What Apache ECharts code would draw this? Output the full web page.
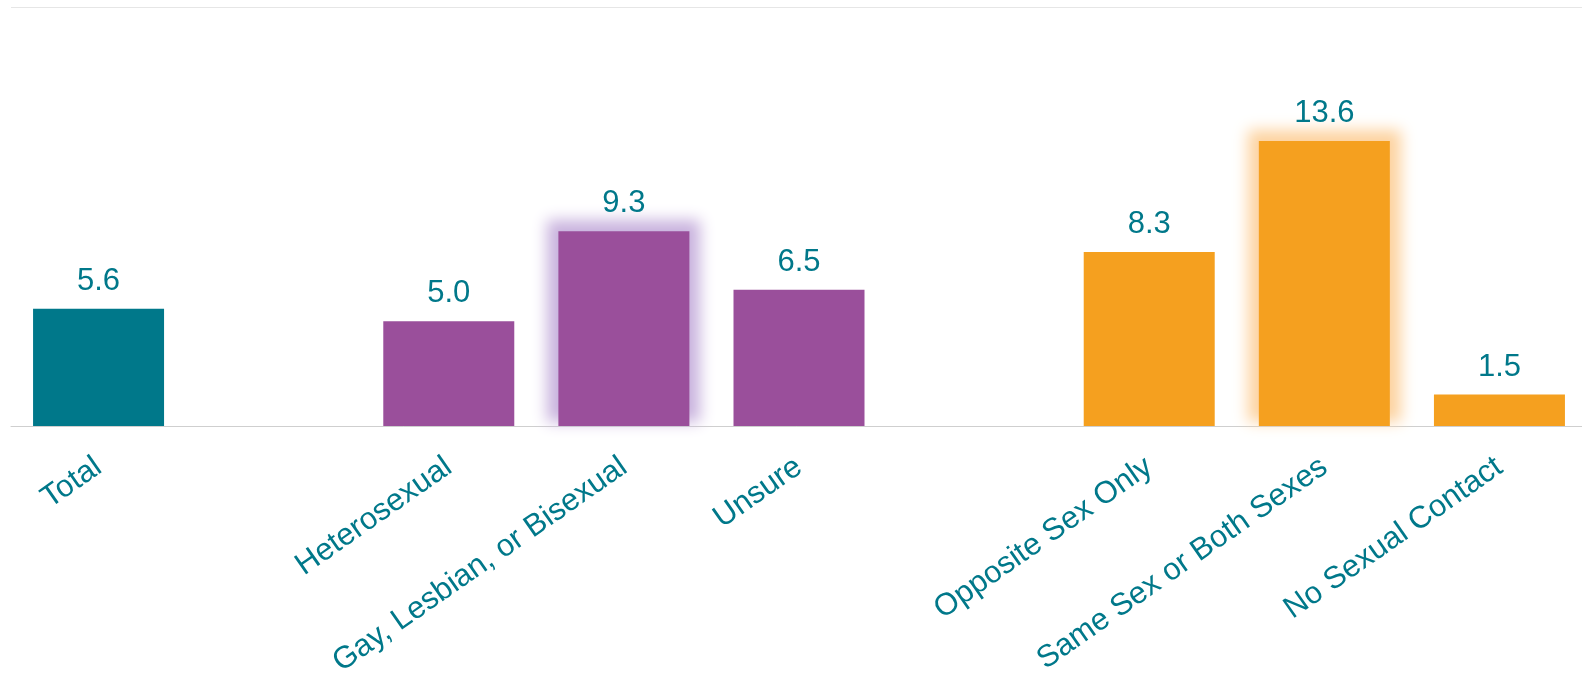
<!DOCTYPE html>
<html>
<head>
<meta charset="utf-8">
<style>
  html, body { margin: 0; padding: 0; background: #ffffff; }
  #chart { width: 1582px; height: 676px; }
</style>
<script src="https://cdn.jsdelivr.net/npm/echarts@6/dist/echarts.min.js"></script>
</head>
<body>
<div id="chart"></div>
<script>
// Categories (empty strings act as spacers between groups)
const categories = ['Total', '', 'Heterosexual', 'Gay, Lesbian, or Bisexual', 'Unsure', '',
  'Opposite Sex Only', 'Same Sex or Both Sexes', 'No Sexual Contact'];
// Percentages per category (null = spacer)
const values = [5.6, null, 5.0, 9.3, 6.5, null, 8.3, 13.6, 1.5];
// Group of each category: total, sexual identity, sex of sexual contacts
const groups = ['total', null, 'identity', 'identity', 'identity', null, 'contact', 'contact', 'contact'];
// Categories drawn with a glow
const highlighted = ['Gay, Lesbian, or Bisexual', 'Same Sex or Both Sexes'];
// Y axis range
const yMin = 0;
const yMax = 20;

const groupColors = { total: '#00788A', identity: '#9A4F9B', contact: '#F5A01F' };
const glowColors = { identity: '#c9b3de', contact: '#fdd3a0' };
const textColor = '#00788A';
const fontFamily = 'Liberation Sans, Arial, sans-serif';
const barWidth = 131;
const glowSpread = 11;
const glowBlur = 14;
// The halo rect is drawn off-canvas and only its shadow is shifted back in,
// so the glow has soft edges everywhere.
const shadowShift = 4000;

// Main bars
const barData = values.map((v, i) => v === null ? null
  : { value: v, itemStyle: { color: groupColors[groups[i]] } });

// Halo behind highlighted bars: [category index, value, group]
const glowData = [];
values.forEach((v, i) => {
  if (v !== null && highlighted.includes(categories[i])) glowData.push([i, v, groups[i]]);
});

function renderGlow(params, api) {
  const top = api.coord([api.value(0), api.value(1)]);
  const base = api.coord([api.value(0), 0]);
  const c = glowColors[glowData[params.dataIndex][2]];
  const x = top[0] - barWidth / 2 - glowSpread;
  const y = top[1] - glowSpread;
  return {
    type: 'rect',
    shape: { x: x - shadowShift, y: y, width: barWidth + glowSpread * 2, height: base[1] - y - 4 },
    style: { fill: c, shadowBlur: glowBlur, shadowColor: c, shadowOffsetX: shadowShift }
  };
}

const chart = echarts.init(document.getElementById('chart'), null, { renderer: 'canvas' });
chart.setOption({
  animation: false,
  backgroundColor: '#ffffff',
  grid: { left: 11, right: -5, top: 7, bottom: 250, containLabel: false, outerBoundsMode: 'none' },
  xAxis: {
    type: 'category',
    data: categories,
    axisLine: { show: true, lineStyle: { color: '#cfcfcf', width: 1 } },
    axisTick: { show: false },
    axisLabel: {
      interval: 0,
      rotate: 35,
      margin: 38,
      color: textColor,
      fontFamily: fontFamily,
      fontSize: 31
    }
  },
  yAxis: {
    type: 'value',
    min: yMin,
    max: yMax,
    interval: 20,
    axisLine: { show: false },
    axisTick: { show: false },
    axisLabel: { show: false },
    splitLine: { show: true, lineStyle: { color: '#e6e6e6', width: 1 } }
  },
  series: [{
    type: 'custom',
    data: glowData,
    renderItem: renderGlow,
    encode: { x: 0, y: 1 },
    clip: false,
    silent: true,
    z: 1
  }, {
    type: 'bar',
    data: barData,
    barWidth: barWidth,
    z: 2,
    label: {
      show: true,
      position: 'top',
      distance: 12,
      color: textColor,
      fontFamily: fontFamily,
      fontSize: 31,
      formatter: p => p.value.toFixed(1)
    }
  }]
});
</script>
</body>
</html>
